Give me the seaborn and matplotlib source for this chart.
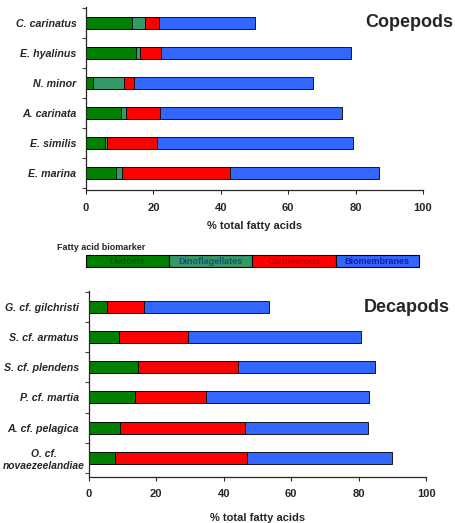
import numpy as np
import pandas as pd
import matplotlib.pyplot as plt
from matplotlib.patches import Rectangle
from matplotlib.transforms import ScaledTranslation
import seaborn as sns

sns.set_style("ticks")
plt.rcParams['font.family'] = ['Liberation Sans', 'DejaVu Sans']

# data (% total fatty acids)
groups = ['Diatoms', 'Dinoflagellates', 'Carnivorous', 'Biomembranes']
colors = ['#008000', '#339966', '#FF0000', '#3366FF']
text_colors = ['#005a00', '#1f4e79', '#c00000', '#1a1aa8']

copepods = ['C. carinatus', 'E. hyalinus', 'N. minor', 'A. carinata', 'E. similis', 'E. marina']
cop_diatoms = [13.7, 14.8, 2.1, 10.4, 5.5, 8.9]
cop_dino = [3.7, 1.2, 9.2, 1.4, 0.6, 1.7]
cop_carn = [4.4, 6.2, 2.9, 10.1, 14.9, 32.2]
cop_biomem = [28.3, 56.3, 53.2, 54.0, 58.1, 44.0]

decapods = ['G. cf. gilchristi', 'S. cf. armatus', 'S. cf. plendens', 'P. cf. martia',
            'A. cf. pelagica', 'O. cf.\nnovaezeelandiae']
dec_diatoms = [5.4, 9.1, 14.7, 13.8, 9.2, 7.9]
dec_dino = [0, 0, 0, 0, 0, 0]
dec_carn = [11.1, 20.4, 29.5, 21.1, 37.0, 38.9]
dec_biomem = [36.9, 51.3, 40.5, 48.2, 36.6, 43.1]


def stacked(ax, species, parts, labelpad):
    df = pd.DataFrame(dict(zip(groups, parts)), index=species)
    cum = df.cumsum(axis=1)
    # draw the running totals from the outermost segment inwards
    for g, c in reversed(list(zip(groups, colors))):
        sns.barplot(x=cum[g].values, y=species, orient='h', color=c, width=0.4,
                    edgecolor='black', linewidth=0.6, saturation=1, ax=ax)
    ax.set_xlim(0, 100)
    ax.set_xticks([0, 20, 40, 60, 80, 100])
    ax.set_xticklabels([0, 20, 40, 60, 80, 100], fontweight='bold', fontsize=8)
    ax.set_yticks(range(len(species)))
    ax.set_yticklabels(species, fontweight='bold', fontstyle='italic', fontsize=7.7,
                       linespacing=1.25)
    ax.set_yticks(np.arange(-0.5, len(species), 1), minor=True)
    ax.tick_params(axis='y', which='major', length=0, pad=7)
    ax.tick_params(axis='y', which='minor', length=3, width=0.8, color='#444444')
    ax.tick_params(axis='x', length=3, width=0.8, pad=6)
    ax.set_xlabel('% total fatty acids', fontweight='bold', fontsize=8, labelpad=labelpad)
    ax.set_ylabel('')
    for s in ['top', 'right']:
        ax.spines[s].set_visible(False)
    for s in ['left', 'bottom']:
        ax.spines[s].set_linewidth(0.9)


fig = plt.figure(figsize=(4.56, 5.23), dpi=100)

ax1 = fig.add_axes([0.1886, 0.6367, 0.739, 0.35])
stacked(ax1, copepods, [cop_diatoms, cop_dino, cop_carn, cop_biomem], 6)
ax1.set_ylim(5.57, -0.53)
ax1.text(0.83, 0.915, 'Copepods', transform=ax1.transAxes, fontsize=13,
         fontweight='bold', va='center', ha='left')

ax2 = fig.add_axes([0.1945, 0.088, 0.740, 0.3556])
stacked(ax2, decapods, [dec_diatoms, dec_dino, dec_carn, dec_biomem], 10)
ax2.set_ylim(5.63, -0.52)
ax2.text(0.815, 0.91, 'Decapods', transform=ax2.transAxes, fontsize=13,
         fontweight='bold', va='center', ha='left')

# the two-line label sits centred and closer to the axis
last = ax2.get_yticklabels()[-1]
last.set_multialignment('center')
last.set_fontsize(7.4)
last.set_transform(last.get_transform() + ScaledTranslation(4 / 72, 0, fig.dpi_scale_trans))

# legend strip
lg = fig.add_axes([86 / 456, 1 - 267 / 523, 333 / 456, 12 / 523])
lg.set_axis_off()
for i, (g, c, tc) in enumerate(zip(groups, colors, text_colors)):
    lg.add_patch(Rectangle((i / 4, 0), 1 / 4, 1, facecolor=c, edgecolor='black',
                           linewidth=0.8, transform=lg.transAxes, clip_on=False))
    lg.text((i + 0.5) / 4, 0.45, g, color=tc, fontsize=6.5, fontweight='bold',
            ha='center', va='center', transform=lg.transAxes)
fig.text(57 / 456, 1 - 247 / 523, 'Fatty acid biomarker', fontsize=6.5,
         fontweight='bold', ha='left', va='center')

fig.savefig('out.png', dpi=100)
